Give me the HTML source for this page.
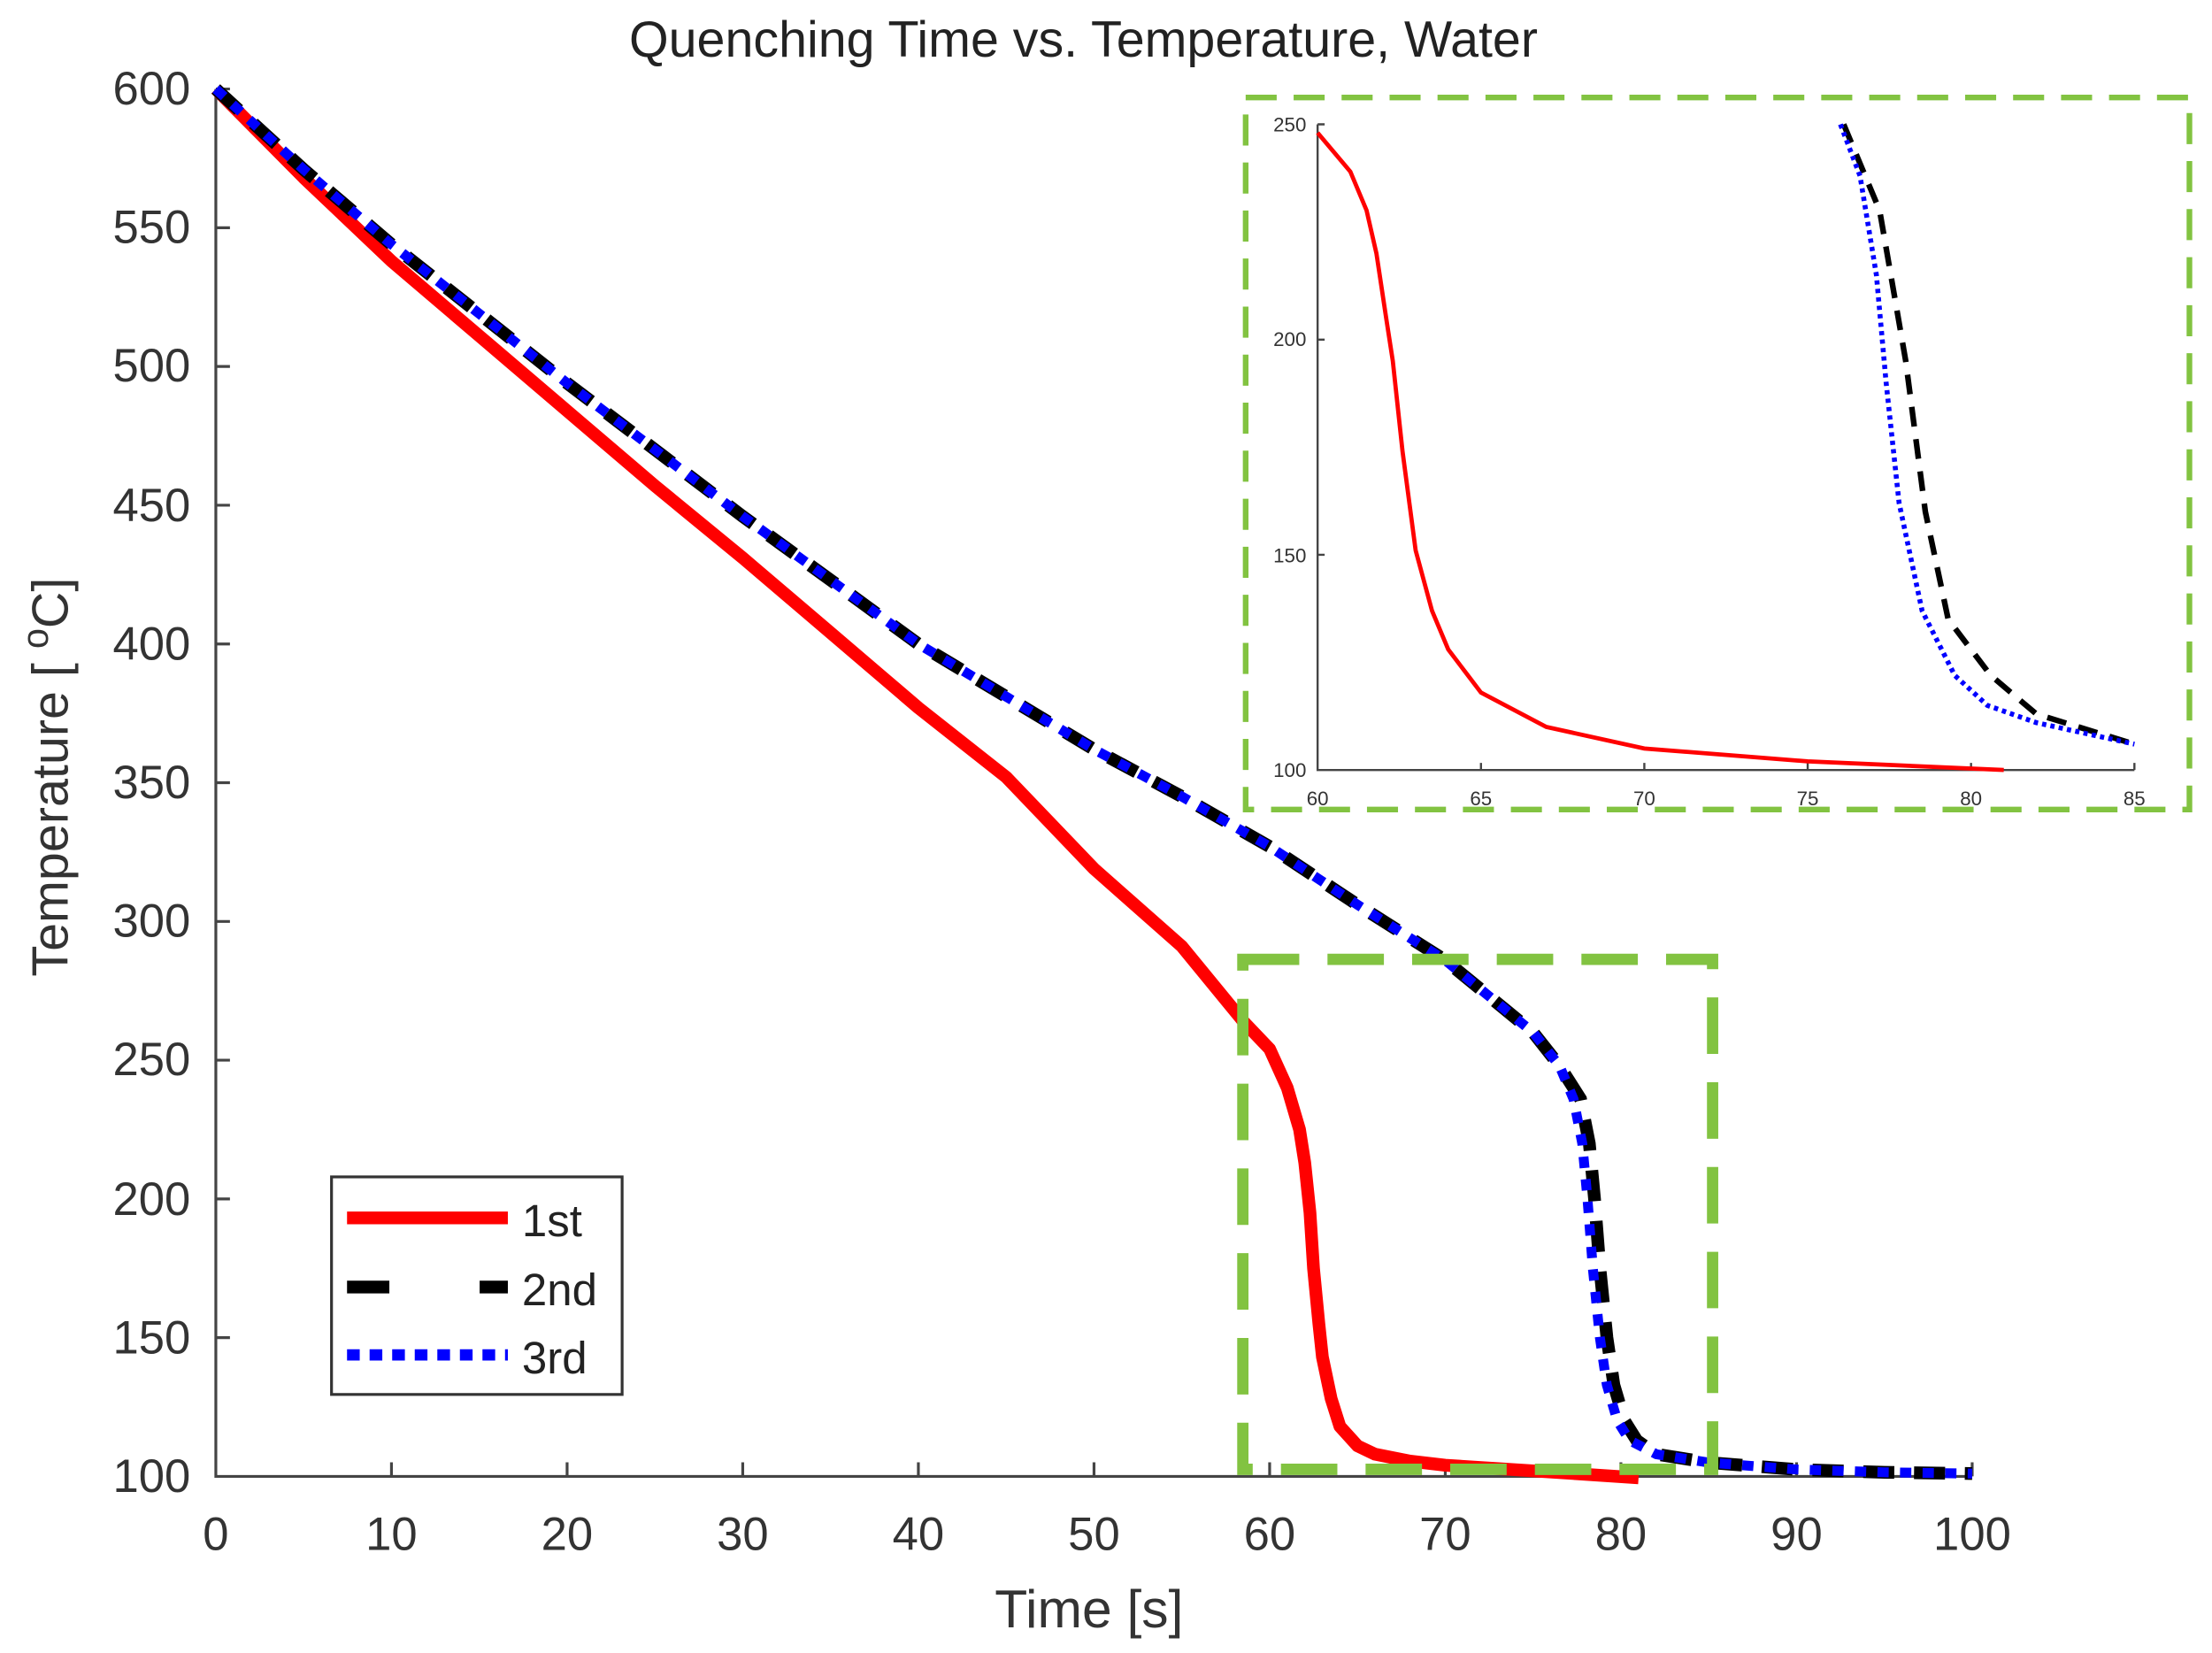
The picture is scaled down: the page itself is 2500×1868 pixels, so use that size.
<!DOCTYPE html>
<html><head><meta charset="utf-8"><style>
html,body{margin:0;padding:0;background:#fff;}
svg{display:block;font-family:"Liberation Sans",Arial,sans-serif;}
</style></head><body>
<svg width="2500" height="1868" viewBox="0 0 1568 1170" preserveAspectRatio="none" xmlns="http://www.w3.org/2000/svg">
<rect width="1568" height="1170" fill="#fff"/>
<text x="768" y="40" font-size="36" text-anchor="middle" fill="#222">Quenching Time vs. Temperature, Water</text>
<g stroke="#444" stroke-width="2" fill="none">
<path d="M153,63 V1045 H1398"/>
<path d="M153,63h10M153,161.2h10M153,259.4h10M153,357.6h10M153,455.8h10M153,554h10M153,652.2h10M153,750.4h10M153,848.6h10M153,946.8h10"/>
<path d="M277.5,1045v-10M402,1045v-10M526.5,1045v-10M651,1045v-10M775.5,1045v-10M900,1045v-10M1024.5,1045v-10M1149,1045v-10M1273.5,1045v-10M1398,1045v-10"/>
</g>
<g font-size="33" fill="#333" text-anchor="end">
<text x="135" y="74">600</text><text x="135" y="172">550</text><text x="135" y="270">500</text><text x="135" y="369">450</text><text x="135" y="467">400</text><text x="135" y="565">350</text><text x="135" y="663">300</text><text x="135" y="761">250</text><text x="135" y="860">200</text><text x="135" y="958">150</text><text x="135" y="1056">100</text>
</g>
<g font-size="33" fill="#333" text-anchor="middle">
<text x="153" y="1097">0</text><text x="277.5" y="1097">10</text><text x="402" y="1097">20</text><text x="526.5" y="1097">30</text><text x="651" y="1097">40</text><text x="775.5" y="1097">50</text><text x="900" y="1097">60</text><text x="1024.5" y="1097">70</text><text x="1149" y="1097">80</text><text x="1273.5" y="1097">90</text><text x="1398" y="1097">100</text>
</g>
<text x="772" y="1152" font-size="38" text-anchor="middle" fill="#333">Time [s]</text>
<text transform="translate(48,550) rotate(-90)" font-size="36" text-anchor="middle" fill="#333">Temperature [ <tspan font-size="26" dy="-14">o</tspan><tspan dy="14">C]</tspan></text>

<polyline fill="none" stroke="#f00" stroke-width="9" stroke-linejoin="round" points="153,63 215.3,125.8 277.5,184.8 339.8,237.8 402,290.8 464.3,343.9 526.5,394.9 588.8,447.9 651,501 713.3,550.1 775.5,614.9 837.8,669.9 881.3,722.9 900,742.5 912.5,770 921.2,799.5 924.9,823 928.6,858.4 931.1,897.7 934.9,937 937.4,960.5 943.6,990 949.8,1009.6 962.3,1023.4 974.7,1029.3 999.6,1034.2 1024.5,1037.1 1086.8,1041.1 1161.5,1046"/>
<polyline fill="none" stroke="#000" stroke-width="9" stroke-dasharray="22,14" points="153,63 215.3,120 277.5,173 339.8,222.1 402,271.2 464.3,318.3 526.5,365.5 588.8,410.6 651,455.8 713.3,493.1 775.5,530.4 837.8,563.8 900,599.2 962.3,640.4 1024.5,679.7 1086.8,730.8 1105.4,754.3 1120.4,777.9 1126.6,809.3 1130.3,848.6 1134.1,897.7 1139.1,946.8 1144,980.2 1151.5,1005.7 1160.2,1019.5 1174.1,1029.3 1211.3,1035.2 1273.5,1040.1 1335.8,1042.1 1398,1043"/>
<polyline fill="none" stroke="#00f" stroke-width="7" stroke-dasharray="8,8" points="153,63 215.3,120 277.5,173 339.8,222.1 402,271.2 464.3,318.3 526.5,365.5 588.8,410.6 651,455.8 713.3,493.1 775.5,530.4 837.8,563.8 900,599.2 962.3,640.4 1024.5,679.7 1086.8,730.8 1105.4,754.3 1115.4,777.9 1121.6,809.3 1125.3,848.6 1129.1,897.7 1134.1,946.8 1139,980.2 1146.5,1005.7 1155.2,1019.5 1174.1,1029.3 1211.3,1035.2 1273.5,1040.1 1335.8,1042.1 1398,1043"/>

<rect x="881" y="679" width="333" height="361" fill="none" stroke="#82c341" stroke-width="8" stroke-dasharray="40,20"/>
<rect x="883" y="69" width="669" height="504" fill="#fff" stroke="#82c341" stroke-width="4" stroke-dasharray="22,12"/>
<g stroke="#444" stroke-width="1.5" fill="none"><path d="M934,88 V545 H1513"/>
<path d="M934,88h5M934,240.4h5M934,392.7h5M1049.8,545v-5M1165.6,545v-5M1281.4,545v-5M1397.2,545v-5M1513,545v-5"/></g>
<g font-size="14" fill="#333" text-anchor="end">
<text x="926" y="93">250</text><text x="926" y="245">200</text><text x="926" y="398">150</text><text x="926" y="550">100</text></g>
<g font-size="14" fill="#333" text-anchor="middle">
<text x="934" y="570">60</text><text x="1049.8" y="570">65</text><text x="1165.6" y="570">70</text><text x="1281.4" y="570">75</text><text x="1397.2" y="570">80</text><text x="1513" y="570">85</text></g>
<polyline fill="none" stroke="#f00" stroke-width="3" points="934,94 957.2,121.5 968.7,148.9 975.7,179.4 982.6,225.1 987.3,255.5 994.2,319.5 1003.5,389.6 1015.1,432.3 1026.6,459.7 1049.8,490.2 1096.1,514.5 1165.6,529.8 1281.4,538.9 1420.4,545"/>
<polyline fill="none" stroke="#000" stroke-width="4" stroke-dasharray="14,9" points="1306.9,88 1332.4,149 1350.9,255.5 1364.8,362.2 1381,438.4 1411.1,478 1443.5,505.4 1513,526.7"/>
<polyline fill="none" stroke="#00f" stroke-width="3.5" stroke-dasharray="3,3" points="1304.6,88 1318.5,124.5 1330.1,194.6 1337,270.8 1346.2,356.1 1362.5,432.3 1385.6,478 1408.8,499.3 1443.5,511.5 1513,526.7"/>

<rect x="235" y="833" width="206" height="154" fill="#fff" stroke="#333" stroke-width="2"/>
<line x1="246" y1="862" x2="360" y2="862" stroke="#f00" stroke-width="9"/>
<line x1="246" y1="911" x2="360" y2="911" stroke="#000" stroke-width="9" stroke-dasharray="30,64"/>
<line x1="246" y1="959" x2="360" y2="959" stroke="#00f" stroke-width="8" stroke-dasharray="9,7"/>
<text x="370" y="875" font-size="32" fill="#222">1st</text>
<text x="370" y="924" font-size="32" fill="#222">2nd</text>
<text x="370" y="972" font-size="32" fill="#222">3rd</text>
</svg>
</body></html>
